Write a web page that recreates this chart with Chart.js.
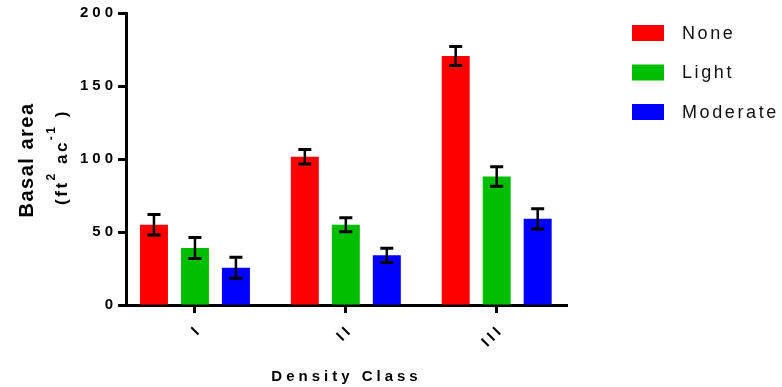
<!DOCTYPE html>
<html>
<head>
<meta charset="utf-8">
<script src="https://cdn.jsdelivr.net/npm/chart.js@4/dist/chart.umd.min.js"></script>
<style>
  html, body { margin: 0; padding: 0; background: #fff; }
  #wrap { width: 782px; height: 387px; }
</style>
</head>
<body>
<div id="wrap"><canvas id="c" width="782" height="387"></canvas></div>
<script>
// Density classes on the x axis and their positions on the index scale
const categories = ['I', 'II', 'III'];
const categoryPositions = [1, 2, 3];

// Disturbance series: mean basal area and error (± half-range)
const seriesNames = ['None', 'Light', 'Moderate'];
const noneMean = [55, 101.5, 170.5];
const noneErr = [7, 5, 6.5];
const lightMean = [39, 55, 88];
const lightErr = [7.2, 4.8, 6.7];
const moderateMean = [25.5, 34, 59];
const moderateErr = [7.2, 4.9, 7];

// Value axis ticks
const yTicks = [0, 50, 100, 150, 200];

const FONT = '"Liberation Sans", Arial, Helvetica, sans-serif';
const seriesColors = ['#FF0000', '#00BF00', '#0000FF'];

const toPoints = (arr) => arr.map((v, i) => ({ x: categoryPositions[i], y: v }));

const datasets = [
  { label: seriesNames[0], data: toPoints(noneMean), errors: noneErr, backgroundColor: seriesColors[0] },
  { label: seriesNames[1], data: toPoints(lightMean), errors: lightErr, backgroundColor: seriesColors[1] },
  { label: seriesNames[2], data: toPoints(moderateMean), errors: moderateErr, backgroundColor: seriesColors[2] }
];

// Tracked letter spacing for axis text
const spacing = {
  id: 'spacing',
  beforeLayout(chart) { chart.ctx.letterSpacing = '4px'; },
  beforeDraw(chart) { chart.ctx.letterSpacing = '4px'; }
};

// Black error bars with caps, drawn from each bar's mean ± error
const errorBars = {
  id: 'errorBars',
  afterDatasetsDraw(chart) {
    const ctx = chart.ctx;
    const yScale = chart.scales.y;
    ctx.save();
    ctx.strokeStyle = '#000';
    ctx.lineCap = 'butt';
    chart.data.datasets.forEach((ds, i) => {
      const meta = chart.getDatasetMeta(i);
      meta.data.forEach((bar, j) => {
        const v = ds.data[j].y;
        const e = ds.errors[j];
        const top = yScale.getPixelForValue(v + e);
        const bot = yScale.getPixelForValue(v - e);
        const x = bar.x;
        const hw = 6.5;
        ctx.lineWidth = 2.5;
        ctx.beginPath();
        ctx.moveTo(x, top);
        ctx.lineTo(x, bot);
        ctx.stroke();
        ctx.lineWidth = 3;
        ctx.beginPath();
        ctx.moveTo(x - hw, top);
        ctx.lineTo(x + hw, top);
        ctx.moveTo(x - hw, bot);
        ctx.lineTo(x + hw, bot);
        ctx.stroke();
      });
    });
    ctx.restore();
  }
};

// Two-line rotated y-axis title with superscript units
const yTitleLine1 = 'Basal area';
const yTitleLine2 = [
  { text: '(ft', sup: false },
  { text: '2', sup: true },
  { text: ' ac', sup: false },
  { text: '-1', sup: true },
  { text: ' )', sup: false }
];
const yTitle = {
  id: 'yTitle',
  afterDraw(chart) {
    const ctx = chart.ctx;
    ctx.save();
    ctx.fillStyle = '#000';
    ctx.textBaseline = 'alphabetic';
    ctx.font = 'bold 20px ' + FONT;
    ctx.letterSpacing = '1.5px';
    ctx.translate(33, 160);
    ctx.rotate(-Math.PI / 2);
    ctx.textAlign = 'center';
    ctx.fillText(yTitleLine1, 0, 0);
    ctx.restore();

    ctx.save();
    ctx.fillStyle = '#000';
    ctx.textBaseline = 'alphabetic';
    ctx.textAlign = 'left';
    ctx.letterSpacing = '2.5px';
    const mainFont = 'bold 17px ' + FONT;
    const supFont = 'bold 12px ' + FONT;
    let total = 0;
    const widths = yTitleLine2.map(p => {
      ctx.font = p.sup ? supFont : mainFont;
      const w = ctx.measureText(p.text).width;
      total += w;
      return w;
    });
    ctx.translate(67, 157);
    ctx.rotate(-Math.PI / 2);
    let x = -total / 2;
    yTitleLine2.forEach((p, k) => {
      ctx.font = p.sup ? supFont : mainFont;
      ctx.fillText(p.text, x, p.sup ? -12 : 0);
      x += widths[k];
    });
    ctx.restore();
  }
};

// Legend on the right: colour swatch and series name
const sideLegend = {
  id: 'sideLegend',
  afterDraw(chart) {
    const ctx = chart.ctx;
    ctx.save();
    ctx.letterSpacing = '2.6px';
    ctx.font = '18px ' + FONT;
    ctx.textBaseline = 'middle';
    ctx.textAlign = 'left';
    chart.data.datasets.forEach((ds, i) => {
      const top = 25 + i * 39.5;
      ctx.fillStyle = ds.backgroundColor;
      ctx.fillRect(632, top, 32, 16);
      ctx.fillStyle = '#111';
      ctx.fillText(ds.label, 682, top + 9);
    });
    ctx.restore();
  }
};

const tickFont = { family: FONT, size: 15, weight: 'bold' };

new Chart(document.getElementById('c'), {
  type: 'bar',
  data: { datasets },
  plugins: [spacing, errorBars, yTitle, sideLegend],
  options: {
    responsive: false,
    animation: false,
    devicePixelRatio: 1,
    layout: { padding: { top: 13, right: 215, left: 0, bottom: 0 } },
    categoryPercentage: 0.815,
    barPercentage: 0.683,
    plugins: { legend: { display: false }, tooltip: { enabled: false } },
    scales: {
      x: {
        type: 'linear',
        min: 0.543,
        max: 3.466,
        offset: false,
        afterBuildTicks: (s) => { s.ticks = categoryPositions.map(v => ({ value: v })); },
        afterFit: (s) => { s.height = 82; },
        grid: { drawOnChartArea: false, offset: false, tickLength: 8, tickWidth: 3, tickColor: '#000' },
        border: { color: '#000', width: 3 },
        ticks: {
          autoSkip: false,
          minRotation: 45,
          maxRotation: 45,
          padding: 8,
          labelOffset: 5,
          color: '#000',
          font: tickFont,
          callback: (v) => categories[categoryPositions.indexOf(v)]
        },
        title: {
          display: true,
          text: 'Density Class',
          color: '#000',
          font: tickFont,
          padding: { top: 0, bottom: 1 }
        }
      },
      y: {
        min: 0,
        max: 200,
        afterBuildTicks: (s) => { s.ticks = yTicks.map(v => ({ value: v })); },
        afterFit: (s) => { s.width = 126; },
        grid: { drawOnChartArea: false, tickLength: 8, tickWidth: 3, tickColor: '#000' },
        border: { color: '#000', width: 3 },
        ticks: { padding: 1, color: '#000', font: tickFont }
      }
    }
  }
});
</script>
</body>
</html>
